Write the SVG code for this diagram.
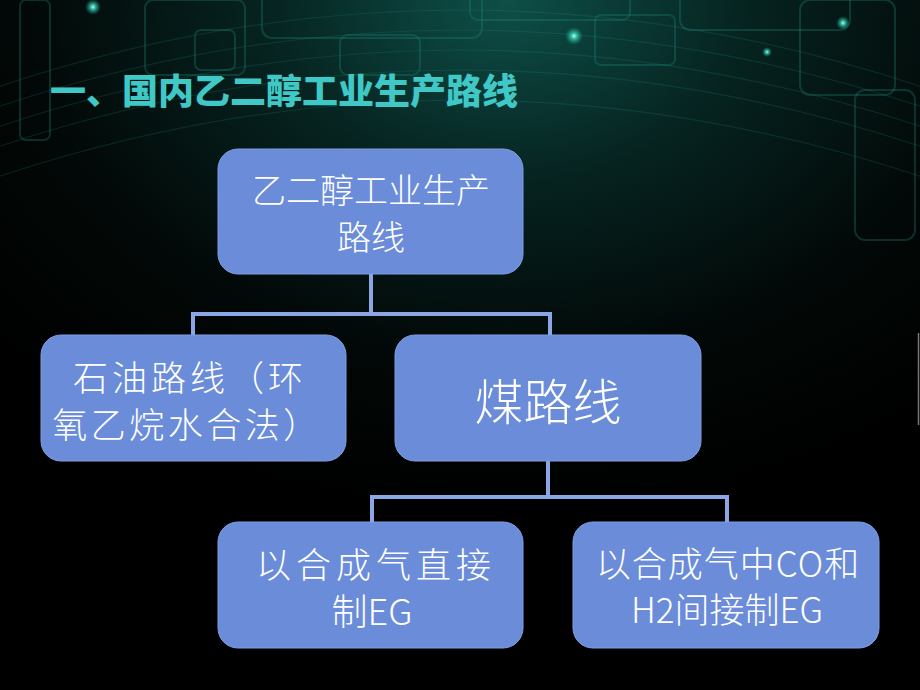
<svg xmlns="http://www.w3.org/2000/svg" width="920" height="690" viewBox="0 0 920 690">
<defs>
<radialGradient id="bg" cx="0.55" cy="0" r="0.75">
<stop offset="0" stop-color="#0e4f48"/>
<stop offset="0.35" stop-color="#062320"/>
<stop offset="0.7" stop-color="#020807"/>
<stop offset="1" stop-color="#000"/>
</radialGradient>
<radialGradient id="glow" cx="0.5" cy="0.5" r="0.5">
<stop offset="0" stop-color="#bfffee"/>
<stop offset="0.3" stop-color="#3fe0c0" stop-opacity="0.8"/>
<stop offset="1" stop-color="#1aa090" stop-opacity="0"/>
</radialGradient>
<style>
.box{fill:#6b8cd9;stroke:#7f9de0;stroke-width:1}
.lbl{fill:#fff;font-family:"Noto Sans CJK SC","Liberation Sans",sans-serif;font-weight:300;text-anchor:middle}
.conn{fill:none;stroke:#8aa6e4;stroke-width:4}
.deco{fill:none;stroke:#1f8a7e;stroke-opacity:0.3;stroke-width:2}
.arc{fill:none;stroke:#2aa894;stroke-opacity:0.16;stroke-width:1.2}
</style>
</defs>
<rect width="920" height="690" fill="url(#bg)"/>
<g id="decoration">
<path class="arc" d="M-40,140 Q460,-40 960,140"/>
<path class="arc" d="M-40,120 Q460,-60 960,120"/>
<path class="arc" d="M-40,100 Q460,-80 960,100"/>
<path class="arc" d="M-40,160 Q460,-20 960,160"/>
<path class="arc" d="M-40,190 Q460,10 960,190"/>
<rect class="deco" x="145" y="0" width="100" height="75" rx="8"/>
<rect class="deco" x="195" y="30" width="40" height="40" rx="6"/>
<rect class="deco" x="262" y="-10" width="220" height="48" rx="10"/>
<rect class="deco" x="340" y="35" width="80" height="40" rx="8"/>
<rect class="deco" x="595" y="15" width="80" height="50" rx="6"/>
<rect class="deco" x="470" y="-10" width="160" height="30" rx="8"/>
<rect class="deco" x="680" y="-10" width="170" height="40" rx="10"/>
<rect class="deco" x="800" y="0" width="95" height="95" rx="10"/>
<rect class="deco" x="855" y="90" width="60" height="150" rx="10"/>
<rect class="deco" x="20" y="0" width="30" height="140" rx="6"/>
<circle cx="93" cy="7" r="8" fill="url(#glow)"/>
<circle cx="574" cy="36" r="9" fill="url(#glow)"/>
<circle cx="767" cy="52" r="5" fill="url(#glow)"/>
<circle cx="843" cy="23" r="7" fill="url(#glow)"/>
<line x1="918.5" y1="333" x2="918.5" y2="425" stroke="#777" stroke-width="1.5"/>
</g>
<text x="50" y="104" font-family="'Noto Sans CJK SC','Liberation Sans',sans-serif" font-weight="900" font-size="35" fill="#40c8c6" textLength="468" lengthAdjust="spacingAndGlyphs">一、国内乙二醇工业生产路线</text>
<g id="connectors">
<path class="conn" d="M371,274 V314 M193,314 H550 M193,312 V336 M550,312 V336"/>
<path class="conn" d="M548,461 V497 M372,497 H727 M372,495 V523 M727,495 V523"/>
</g>
<g id="n-root">
<rect class="box" x="218" y="149" width="305" height="125" rx="20"/>
<text class="lbl" font-size="34" x="371" y="203">乙二醇工业生产</text>
<text class="lbl" font-size="34" x="371" y="250">路线</text>
</g>
<g id="n-oil">
<rect class="box" x="41" y="335" width="305" height="126" rx="20"/>
<text class="lbl" font-size="35" letter-spacing="4" x="190" y="391">石油路线（环</text>
<text class="lbl" font-size="35" letter-spacing="3.5" x="187" y="438">氧乙烷水合法）</text>
</g>
<g id="n-coal">
<rect class="box" x="395" y="335" width="306" height="126" rx="20"/>
<text class="lbl" font-size="49" x="548" y="420">煤路线</text>
</g>
<g id="n-direct">
<rect class="box" x="218" y="522" width="305" height="126" rx="20"/>
<text class="lbl" font-size="35" letter-spacing="5" x="376" y="578">以合成气直接</text>
<text class="lbl" font-size="36" x="372" y="625">制EG</text>
</g>
<g id="n-indirect">
<rect class="box" x="573" y="522" width="306" height="126" rx="20"/>
<text class="lbl" font-size="35" letter-spacing="1" x="728" y="577">以合成气中CO和</text>
<text class="lbl" font-size="35" x="727" y="623">H2间接制EG</text>
</g>
</svg>
